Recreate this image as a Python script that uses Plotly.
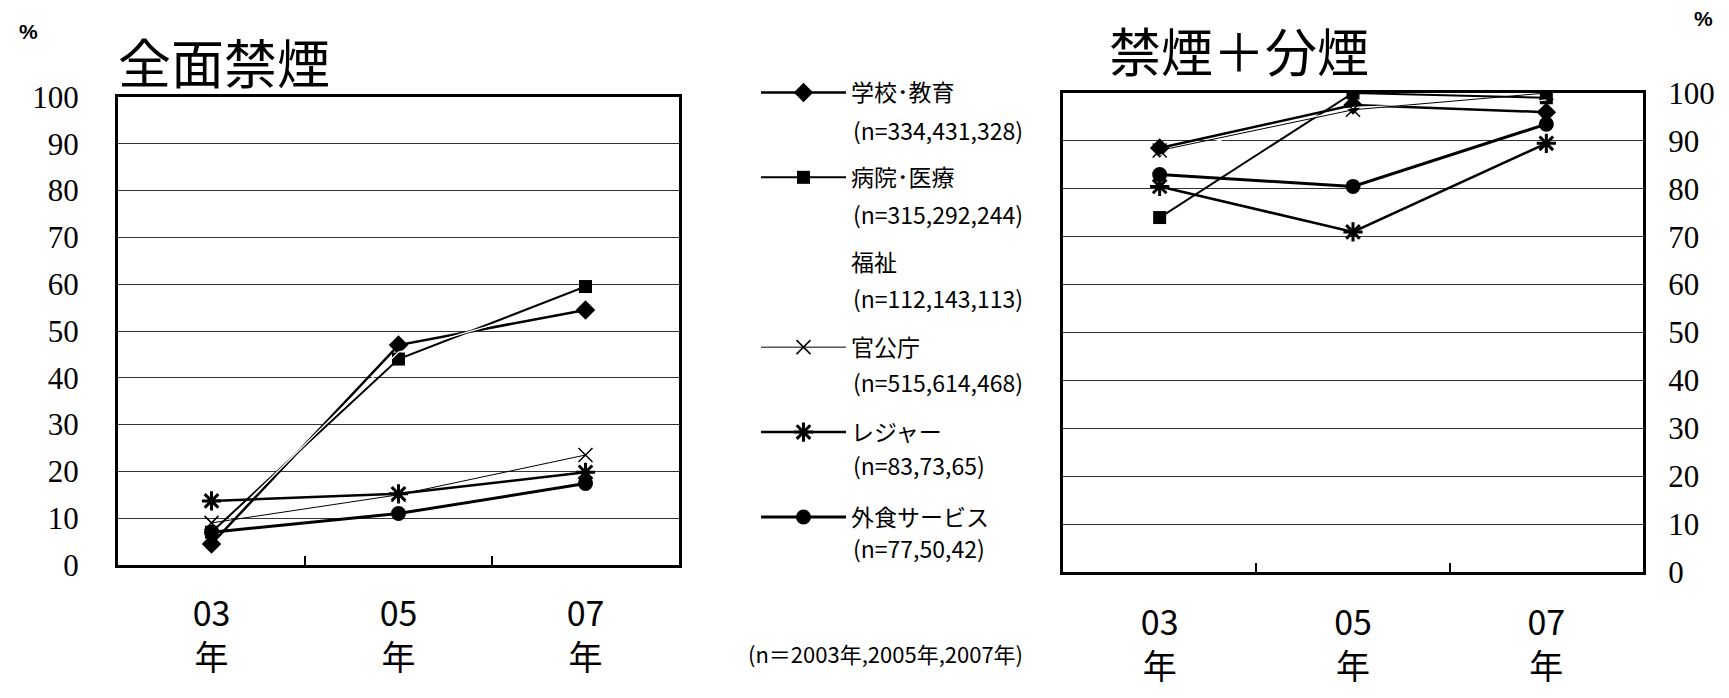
import plotly.graph_objects as go

# ---------------- data ----------------
years = ["03", "05", "07"]
year_labels = ["03<br>年", "05<br>年", "07<br>年"]

series_names = ["学校･教育", "病院･医療", "福祉", "官公庁", "レジャー", "外食サービス"]
n_labels = ["(n=334,431,328)", "(n=315,292,244)", "(n=112,143,113)",
            "(n=515,614,468)", "(n=83,73,65)", "(n=77,50,42)"]

# 全面禁煙 (%)
school_full = [4.5, 47.0, 54.5]
hospital_full = [7.0, 44.0, 59.5]
welfare_full = [6.0, 45.5, 57.0]
office_full = [9.0, 15.0, 23.5]
leisure_full = [13.7, 15.2, 19.8]
food_full = [7.0, 11.0, 17.4]

# 禁煙＋分煙 (%)
school_part = [88.5, 97.5, 96.0]
hospital_part = [74.0, 100.0, 99.0]
welfare_part = [87.0, 97.0, 98.5]
office_part = [88.0, 96.5, 100.0]
leisure_part = [80.5, 71.0, 89.5]
food_part = [83.0, 80.5, 93.5]

y_ticks = [0, 10, 20, 30, 40, 50, 60, 70, 80, 90, 100]

full_values = [school_full, hospital_full, welfare_full, office_full, leisure_full, food_full]
part_values = [school_part, hospital_part, welfare_part, office_part, leisure_part, food_part]

# ---------------- styles ----------------
PAGE_W, PAGE_H = 1729, 698
BODY = 8  # default page body margin
W, H = PAGE_W - 2 * BODY, PAGE_H - 2 * BODY

styles = [
    dict(mode="lines+markers", line=dict(color="black", width=2.5),
         marker=dict(symbol="diamond", size=15, color="black")),
    dict(mode="lines+markers", line=dict(color="black", width=2),
         marker=dict(symbol="square", size=13, color="black")),
    dict(mode="lines", line=dict(color="white", width=1.2)),
    dict(mode="lines+markers", line=dict(color="black", width=1),
         marker=dict(symbol="x-thin-open", size=14, color="black",
                     line=dict(color="black", width=1.5))),
    dict(mode="lines+markers", line=dict(color="black", width=2.5),
         marker=dict(symbol="asterisk-open", size=16, color="black",
                     line=dict(color="black", width=3))),
    dict(mode="lines+markers", line=dict(color="black", width=3),
         marker=dict(symbol="circle", size=15, color="black")),
]

fig = go.Figure()
for i, name in enumerate(series_names):
    fig.add_trace(go.Scatter(x=years, y=full_values[i], name=name,
                             legendgroup=name, showlegend=True,
                             xaxis="x", yaxis="y", **styles[i]))
for i, name in enumerate(series_names):
    fig.add_trace(go.Scatter(x=years, y=part_values[i], name=name,
                             legendgroup=name, showlegend=False,
                             xaxis="x2", yaxis="y2", **styles[i]))

def px_x(v):
    return (v - BODY) / W

def px_y(v):
    return 1 - (v - BODY) / H

jp = "Noto Sans CJK JP"
serif = "Liberation Serif"

xaxis_common = dict(
    type="category", range=[-0.5, 2.5], tickmode="array",
    tickvals=years, ticktext=year_labels,
    tickfont=dict(family=jp, size=34, color="black"),
    ticks="inside", tickson="boundaries", ticklen=9, tickwidth=1.5,
    tickcolor="black", showline=True, linewidth=3, linecolor="black",
    mirror=True, showgrid=False, zeroline=False, automargin=False,
)
yaxis_common = dict(
    range=[0, 100], tickmode="array", tickvals=y_ticks,
    tickfont=dict(family=serif, size=31, color="black"),
    showgrid=True, gridcolor="#333333", gridwidth=1,
    showline=True, linewidth=3, linecolor="black", mirror=True,
    zeroline=False, ticks="", automargin=False,
)

fig.update_layout(
    width=W, height=H,
    margin=dict(l=0, r=0, t=0, b=0, pad=0, autoexpand=False),
    paper_bgcolor="white", plot_bgcolor="white",
    xaxis=dict(domain=[px_x(118), px_x(679)], anchor="y", ticklabelstandoff=17,
               **xaxis_common),
    yaxis=dict(domain=[px_y(565), px_y(97)], anchor="x", side="left",
               ticklabelstandoff=30, **yaxis_common),
    xaxis2=dict(domain=[px_x(1063), px_x(1643)], anchor="y2", ticklabelstandoff=19,
                **xaxis_common),
    yaxis2=dict(domain=[px_y(572), px_y(93)], anchor="x2", side="right",
                ticklabelstandoff=16, **yaxis_common),
    legend=dict(
        x=px_x(756), y=px_y(71), xanchor="left", yanchor="top",
        traceorder="grouped", tracegroupgap=52, itemwidth=85,
        font=dict(family=jp, size=23, color="black"),
        bgcolor="rgba(0,0,0,0)", borderwidth=0,
    ),
    showlegend=True,
)

annotations = [
    dict(text="全面禁煙", x=px_x(224), y=px_y(61), xanchor="center", yanchor="middle",
         font=dict(family=jp, size=53, color="black")),
    dict(text="禁煙＋分煙", x=px_x(1239), y=px_y(50), xanchor="center", yanchor="middle",
         font=dict(family=jp, size=52, color="black")),
    dict(text="<b>%</b>", x=px_x(28), y=px_y(32), xanchor="center", yanchor="middle",
         font=dict(family="Liberation Sans", size=21, color="black")),
    dict(text="<b>%</b>", x=px_x(1703), y=px_y(19), xanchor="center", yanchor="middle",
         font=dict(family="Liberation Sans", size=21, color="black")),
    dict(text="(n＝2003年,2005年,2007年)", x=px_x(885), y=px_y(653),
         xanchor="center", yanchor="middle",
         font=dict(family=jp, size=22, color="black")),
]
n_ys = [130, 214, 298, 382, 465, 548]
for lbl, yy in zip(n_labels, n_ys):
    annotations.append(dict(text=lbl, x=px_x(851), y=px_y(yy), xanchor="left",
                            yanchor="middle",
                            font=dict(family=jp, size=23, color="black")))
for a in annotations:
    a.update(xref="paper", yref="paper", showarrow=False)
fig.update_layout(annotations=annotations)

fig.write_html("out.html")
